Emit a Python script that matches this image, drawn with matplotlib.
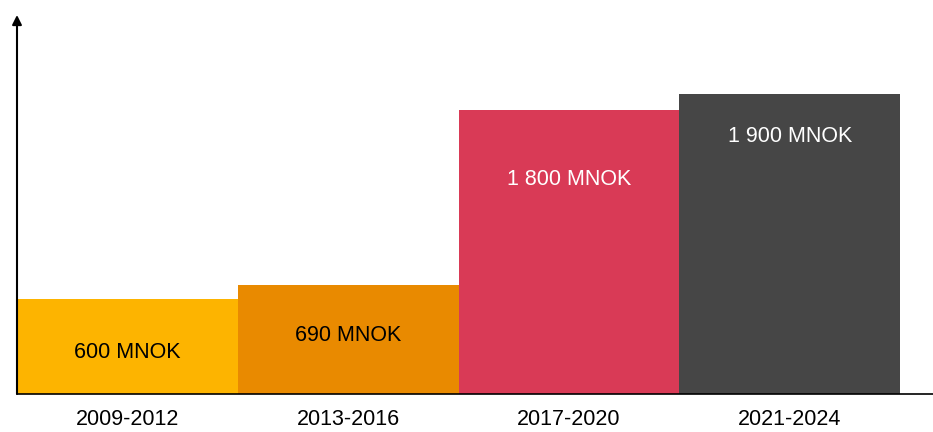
import matplotlib.pyplot as plt

plt.rcParams['font.family'] = ['Liberation Sans', 'DejaVu Sans']

periods = ['2009-2012', '2013-2016', '2017-2020', '2021-2024']
amounts = [600, 690, 1800, 1900]
labels = ['600 MNOK', '690 MNOK', '1 800 MNOK', '1 900 MNOK']
colors = ['#FDB400', '#E98A00', '#D93A56', '#464646']
text_colors = ['black', 'black', 'white', 'white']
label_offsets = [53, 50, 70, 43]

fig = plt.figure(figsize=(9.33, 4.32), dpi=100)
ax = fig.add_axes([17 / 933, 38 / 432, 916 / 933, 379 / 432])

x = range(len(periods))
ax.bar(x, amounts, width=1.0, align='edge', color=colors, zorder=2)

for i in x:
    ax.annotate(labels[i], (i + 0.5, amounts[i]), xytext=(0, -label_offsets[i] * 0.72),
                textcoords='offset points', ha='center', va='center',
                fontsize=15.5, color=text_colors[i])

ax.set_xlim(0, 916 / 220.75)
ax.set_ylim(0, 2400)
ax.set_xticks([i + 0.5 for i in x])
ax.set_xticklabels(periods, fontsize=15.5)
ax.tick_params(axis='x', length=0, pad=11)
ax.set_yticks([])
for s in ax.spines.values():
    s.set_visible(False)

# axis lines with arrow heads
ax.annotate('', xy=(0, 1.0), xytext=(0, 0), xycoords='axes fraction',
            arrowprops=dict(arrowstyle='-|>', color='black', lw=1.5,
                            mutation_scale=14, shrinkA=0, shrinkB=0))
ax.annotate('', xy=(1.0, 0), xytext=(0, 0), xycoords='axes fraction',
            arrowprops=dict(arrowstyle='-', color='black', lw=1.2,
                            shrinkA=0, shrinkB=0))

fig.savefig('out.png', dpi=100)
